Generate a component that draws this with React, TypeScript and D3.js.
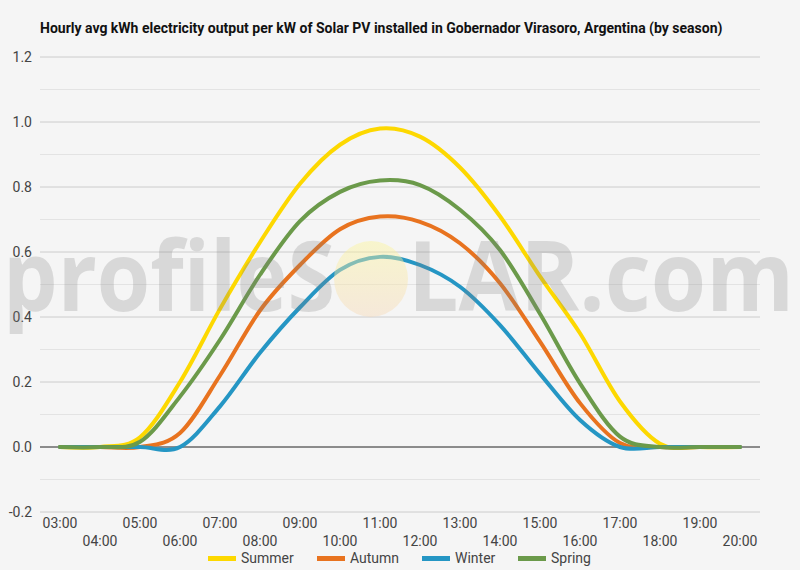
import React from "react";
import * as d3 from "d3";

const hours = ["03:00","04:00","05:00","06:00","07:00","08:00","09:00","10:00","11:00","12:00","13:00","14:00","15:00","16:00","17:00","18:00","19:00","20:00"];
const summer = [0, 0, 0.03, 0.20, 0.425, 0.63, 0.81, 0.93, 0.98, 0.955, 0.86, 0.71, 0.525, 0.35, 0.14, 0.01, 0, 0];
const autumn = [0, 0, 0, 0.043, 0.22, 0.42, 0.56, 0.67, 0.709, 0.693, 0.627, 0.504, 0.324, 0.135, 0.012, 0, 0, 0];
const winter = [0, 0, 0, 0, 0.125, 0.29, 0.43, 0.545, 0.585, 0.56, 0.493, 0.375, 0.225, 0.083, 0, 0, 0, 0];
const spring = [0, 0, 0.016, 0.155, 0.33, 0.53, 0.695, 0.785, 0.82, 0.806, 0.73, 0.606, 0.41, 0.196, 0.032, 0, 0, 0];
const seriesNames = ["Summer", "Autumn", "Winter", "Spring"];
const seriesColors = ["#FDD800", "#E8731F", "#2596C4", "#6B9A4A"];
const yTicks = [-0.2, 0, 0.2, 0.4, 0.6, 0.8, 1.0, 1.2];
const yMinor = [-0.1, 0.1, 0.3, 0.5, 0.7, 0.9, 1.1];
const title = "Hourly avg kWh electricity output per kW of Solar PV installed in Gobernador Virasoro, Argentina (by season)";

const W = 800, H = 570;
const L = 40, R = 760, T = 57, B = 512;

export default function App() {
  const x = d3.scalePoint<string>().domain(hours).range([L, R]).padding(0.5);
  const y = d3.scaleLinear().domain([-0.2, 1.2]).range([B, T]);
  const line = d3.line<number>()
    .x((_, i) => x(hours[i]) as number)
    .y((d) => y(d))
    .curve(d3.curveCatmullRom.alpha(0));
  const data = [summer, autumn, winter, spring];
  const legendX = [208, 317, 422, 518];
  const font = "Roboto, sans-serif";
  return (
    <svg width={W} height={H} style={{ position: "absolute", left: 0, top: 0 }} fontFamily={font}>
      <defs>
        <linearGradient id="sun" x1="0" y1="0" x2="0" y2="1">
          <stop offset="0%" stopColor="#fbf59a" />
          <stop offset="100%" stopColor="#f6d9b8" />
        </linearGradient>
      </defs>
      <rect x={0} y={0} width={W} height={H} fill="#f5f5f5" />
      <text x={L} y={33} fontSize={14} fontWeight="bold" fill="#111">{title}</text>
      {yMinor.map((v) => (
        <line key={"m" + v} x1={L} x2={R} y1={y(v)} y2={y(v)} stroke="#e3e3e3" strokeWidth={1} />
      ))}
      {yTicks.map((v) => (
        <g key={"t" + v}>
          <line x1={L} x2={R} y1={y(v)} y2={y(v)} stroke={v === 0 ? "#222" : "#cccccc"} strokeWidth={1} />
          <text x={32} y={y(v) + 5} fontSize={14} fill="#444" textAnchor="end">{v.toFixed(1)}</text>
        </g>
      ))}
      {hours.map((h, i) => (
        <text key={h} x={x(h)} y={i % 2 === 0 ? 528 : 546} fontSize={14} fill="#444" textAnchor="middle">{h}</text>
      ))}
      <g>
        {data.map((s, i) => (
          <path key={i} d={line(s) || ""} fill="none" stroke={seriesColors[i]} strokeWidth={4} strokeLinejoin="round" strokeLinecap="round" />
        ))}
      </g>
      <g>
        <ellipse cx={371} cy={279} rx={37} ry={38} fill="url(#sun)" opacity={0.45} />
        <text x={3} y={311} fontSize={96} fontWeight={700} fontFamily="'Open Sans', sans-serif" fill="#808080" opacity={0.24} textLength={332} lengthAdjust="spacingAndGlyphs">profileS</text>
        <text x={408} y={311} fontSize={96} fontWeight={700} fontFamily="'Open Sans', sans-serif" fill="#808080" opacity={0.24} textLength={386} lengthAdjust="spacingAndGlyphs">LAR.com</text>
      </g>
      {seriesNames.map((n, i) => (
        <g key={n}>
          <rect x={legendX[i]} y={556} width={28} height={5} fill={seriesColors[i]} />
          <text x={legendX[i] + 33} y={563} fontSize={14} fill="#444">{n}</text>
        </g>
      ))}
    </svg>
  );
}
